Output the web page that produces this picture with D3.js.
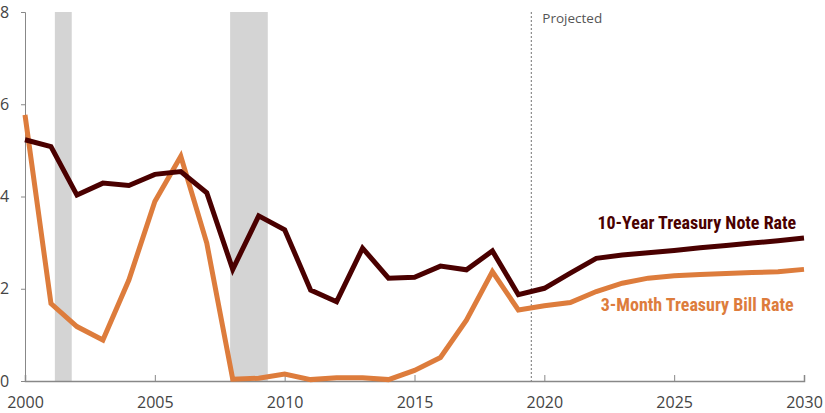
<!DOCTYPE html>
<html>
<head>
<meta charset="utf-8">
<script src="https://cdn.jsdelivr.net/npm/d3@7"></script>
<style>
  body { margin: 0; background: #fff; }
</style>
</head>
<body>
<div id="chart"></div>
<script>
// years 2000-2030
var years = d3.range(2000, 2031);

// 10-Year Treasury Note Rate (percent)
var noteRate = [5.23, 5.08, 4.03, 4.29, 4.24, 4.48, 4.54, 4.08, 2.42, 3.58,
    3.28, 1.97, 1.72, 2.88, 2.23, 2.25, 2.49, 2.41, 2.82, 1.87,
    2.01, 2.34, 2.66, 2.73, 2.78, 2.83, 2.89, 2.94, 2.99, 3.04, 3.10];

// 3-Month Treasury Bill Rate (percent)
var billRate = [5.77, 1.68, 1.18, 0.89, 2.19, 3.89, 4.87, 2.99, 0.04, 0.06,
    0.15, 0.03, 0.07, 0.07, 0.03, 0.23, 0.51, 1.32, 2.37, 1.54,
    1.63, 1.70, 1.94, 2.12, 2.23, 2.28, 2.31, 2.33, 2.35, 2.37, 2.42];

// recessions (start, end) in fractional years
var recessions = [[2001.15, 2001.8], [2007.9, 2009.35]];

var projectedStart = 2019.5;
var yTicks = [0, 2, 4, 6, 8];
var xTicks = [2000, 2005, 2010, 2015, 2020, 2025, 2030];

var chart = {
    w: 825,
    h: 413,
    margin: { top: 12, right: 21, bottom: 32, left: 25 }
};

var tickFont = "'Open Sans', 'Noto Sans', sans-serif";
var labelFont = "'Liberation Sans Narrow', 'Roboto Condensed', 'Roboto', sans-serif";

function gen_chart() {
    var m = chart.margin;
    var iw = chart.w - m.left - m.right;
    var ih = chart.h - m.top - m.bottom;

    var svg = d3.select("#chart")
        .append("svg")
        .attr("width", chart.w)
        .attr("height", chart.h);

    var g = svg.append("g")
        .attr("transform", "translate(" + m.left + "," + m.top + ")");

    var x = d3.scaleLinear().domain([2000, 2030]).range([0, iw]);
    var y = d3.scaleLinear().domain([0, 8]).range([ih, 0]);

    // recession shading
    g.selectAll("rect.recession")
        .data(recessions)
        .enter().append("rect")
        .attr("class", "recession")
        .attr("x", function (d) { return x(d[0]); })
        .attr("width", function (d) { return x(d[1]) - x(d[0]); })
        .attr("y", y(8))
        .attr("height", y(0) - y(8))
        .attr("fill", "#d4d4d4");

    // projected divider
    g.append("line")
        .attr("x1", x(projectedStart))
        .attr("x2", x(projectedStart))
        .attr("y1", y(8))
        .attr("y2", y(0))
        .attr("stroke", "#8a8a8a")
        .attr("stroke-width", 1.2)
        .attr("stroke-dasharray", "2,2");

    g.append("text")
        .attr("x", x(projectedStart) + 11)
        .attr("y", 11)
        .attr("fill", "#555")
        .style("font-size", "13.5px")
        .style("font-family", tickFont)
        .text("Projected");

    // axes
    var yAxis = g.append("g")
        .call(d3.axisLeft(y).tickValues(yTicks).tickSize(4).tickFormat(d3.format("d")));
    yAxis.select(".domain").attr("stroke", "#888");
    yAxis.selectAll(".tick line").attr("stroke", "#888");
    yAxis.selectAll(".tick text")
        .attr("x", -25)
        .attr("text-anchor", "start")
        .attr("fill", "#444")
        .style("font-size", "16px")
        .style("font-family", tickFont);

    var xAxis = g.append("g")
        .attr("transform", "translate(0," + ih + ")")
        .call(d3.axisBottom(x).tickValues(xTicks).tickSize(-6).tickFormat(d3.format("d")));
    xAxis.select(".domain").attr("stroke", "#888").attr("stroke-width", 1.5);
    xAxis.selectAll(".tick line").attr("stroke", "#888");
    xAxis.selectAll(".tick text")
        .attr("y", 16)
        .attr("fill", "#444")
        .style("font-size", "16px")
        .style("font-family", tickFont);

    var line = function (vals) {
        return d3.line()
            .x(function (d, i) { return x(years[i]); })
            .y(function (d) { return y(d); })(vals);
    };

    g.append("path")
        .attr("d", line(billRate))
        .attr("fill", "none")
        .attr("stroke", "#dd7c3c")
        .attr("stroke-width", 5)
        .attr("stroke-linejoin", "miter");

    g.append("path")
        .attr("d", line(noteRate))
        .attr("fill", "none")
        .attr("stroke", "#4a0000")
        .attr("stroke-width", 5)
        .attr("stroke-linejoin", "miter");

    // series labels
    g.append("text")
        .attr("x", x(2029.7))
        .attr("y", y(3.3))
        .attr("text-anchor", "end")
        .attr("fill", "#4a0000")
        .style("font-weight", "bold")
        .style("font-size", "18px")
        .style("font-family", labelFont)
        .text("10-Year Treasury Note Rate");

    g.append("text")
        .attr("x", x(2029.6))
        .attr("y", y(1.52))
        .attr("text-anchor", "end")
        .attr("fill", "#dd7c3c")
        .style("font-weight", "bold")
        .style("font-size", "18px")
        .style("font-family", labelFont)
        .text("3-Month Treasury Bill Rate");
}

gen_chart();
</script>
</body>
</html>
